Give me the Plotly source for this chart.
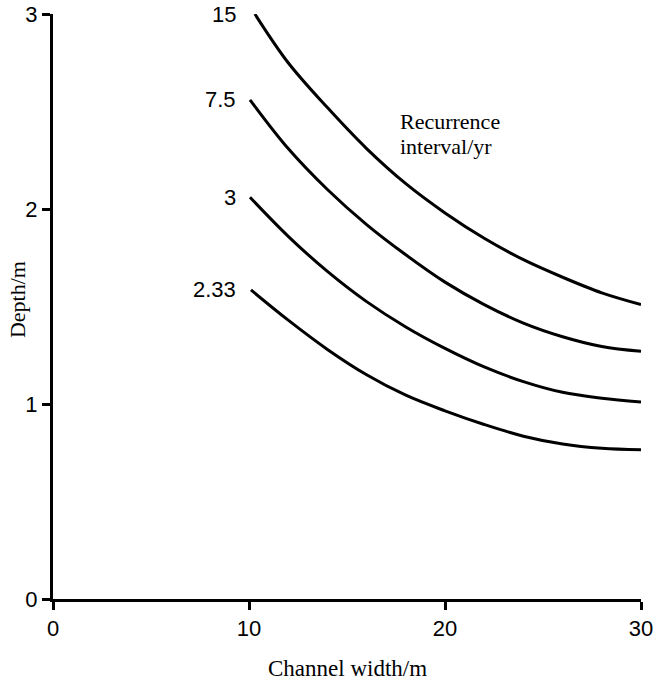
import plotly.graph_objects as go

# Recurrence interval curves (channel width m, depth m)
labels = ["15", "7.5", "3", "2.33"]
x_15 = [10.3, 12, 14, 16, 18, 20, 22, 24, 26, 28, 30]
y_15 = [3.00, 2.75, 2.52, 2.31, 2.13, 1.98, 1.85, 1.74, 1.65, 1.57, 1.51]
x_75 = [10.05, 12, 14, 16, 18, 20, 22, 24, 26, 28, 30]
y_75 = [2.56, 2.31, 2.10, 1.92, 1.765, 1.625, 1.51, 1.415, 1.345, 1.295, 1.27]
x_3 = [10.05, 12, 14, 16, 18, 20, 22, 24, 26, 28, 30]
y_3 = [2.06, 1.86, 1.68, 1.525, 1.395, 1.285, 1.19, 1.115, 1.06, 1.03, 1.01]
x_233 = [10.1, 12, 14, 16, 18, 20, 22, 24, 26, 28, 30]
y_233 = [1.585, 1.43, 1.28, 1.15, 1.045, 0.965, 0.895, 0.835, 0.795, 0.773, 0.765]

xs = [x_15, x_75, x_3, x_233]
ys = [y_15, y_75, y_3, y_233]

x_ticks = [0, 10, 20, 30]
y_ticks = [0, 1, 2, 3]

SANS = "Liberation Sans, Arial, sans-serif"
SERIF = "Liberation Serif, Times New Roman, serif"

fig = go.Figure()
for lab, x, y in zip(labels, xs, ys):
    fig.add_trace(go.Scatter(x=x, y=y, mode="lines", name=lab,
                             line=dict(color="black", width=3, shape="spline", smoothing=1.0),
                             showlegend=False, hoverinfo="skip"))
    fig.add_annotation(x=9.45, y=y[0], text=lab, showarrow=False,
                       xanchor="right", yanchor="middle",
                       font=dict(family=SANS, size=22, color="black"))

fig.add_annotation(x=17.6, y=2.45, text="Recurrence", showarrow=False,
                   xanchor="left", yanchor="middle",
                   font=dict(family=SERIF, size=22, color="black"))
fig.add_annotation(x=17.6, y=2.32, text="interval/yr", showarrow=False,
                   xanchor="left", yanchor="middle",
                   font=dict(family=SERIF, size=22, color="black"))

# axis titles
fig.add_annotation(xref="paper", yref="paper", x=0.5, y=0, yshift=-69,
                   text="Channel width/m", showarrow=False,
                   xanchor="center", yanchor="middle",
                   font=dict(family=SERIF, size=23, color="black"))
fig.add_annotation(xref="paper", yref="paper", x=0, y=0.511, xshift=-36,
                   text="Depth/m", showarrow=False, textangle=-90,
                   xanchor="center", yanchor="middle",
                   font=dict(family=SERIF, size=22, color="black"))

axis_common = dict(showgrid=False, zeroline=False, showline=True, linecolor="black",
                   linewidth=3, ticks="outside", ticklen=8, tickwidth=3, tickcolor="black",
                   automargin=False,
                   tickfont=dict(family=SANS, size=22, color="black"))

fig.update_xaxes(range=[0, 30], tickvals=x_ticks, ticktext=[str(v) for v in x_ticks],
                 **axis_common)
fig.update_yaxes(range=[0, 3], tickvals=y_ticks, ticktext=[str(v) for v in y_ticks],
                 **axis_common)

fig.update_layout(width=656, height=682, plot_bgcolor="white", paper_bgcolor="white",
                  margin=dict(l=53, r=15, t=14, b=83))

# remove the default page margin so the figure fills the window exactly
fig.write_html("out.html",
               config={"displayModeBar": False},
               post_script="document.body.style.margin='0px';"
                           "document.body.style.padding='0px';"
                           "document.body.style.overflow='hidden';")
